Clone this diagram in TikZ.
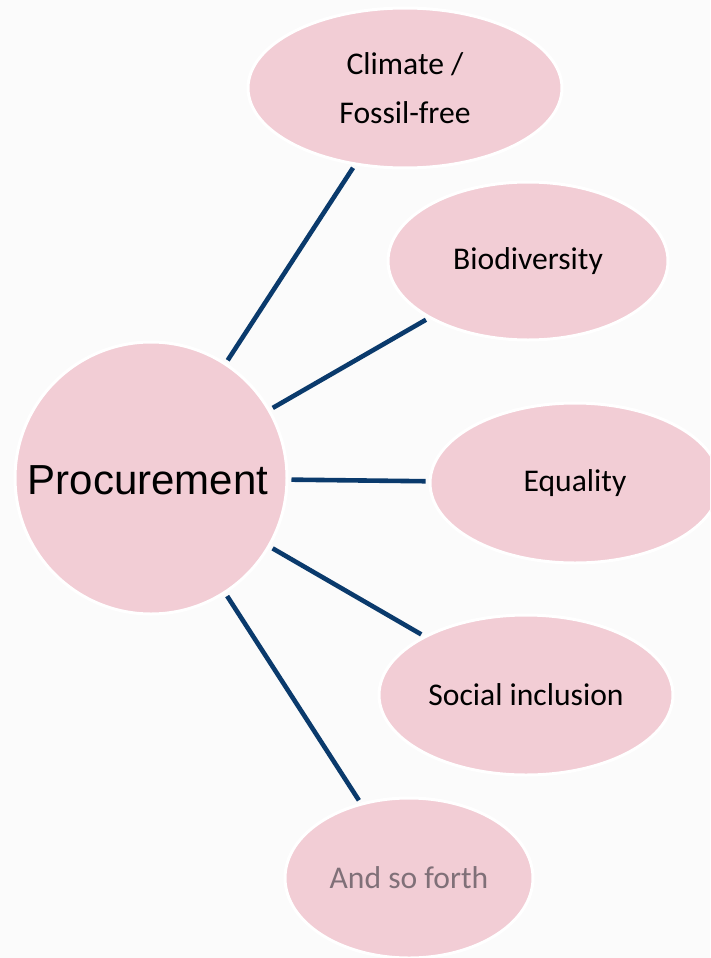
\documentclass[tikz,border=0pt]{standalone}
\usepackage{fontspec}
\setmainfont{Carlito}
\newfontfamily\arialfont{Liberation Sans}
\usetikzlibrary{shapes.geometric}
\definecolor{bubble}{RGB}{242,205,213}
\definecolor{linkblue}{RGB}{10,58,108}
\definecolor{bgcol}{RGB}{251,251,251}
\definecolor{greytext}{RGB}{128,112,120}
\tikzset{
  bub/.style={ellipse, fill=bubble, draw=white, line width=3pt, inner sep=0pt,
    font=\fontsize{31.6}{49}\selectfont, text=black, align=center},
  link/.style={draw=linkblue, line width=4.6pt, shorten <=3pt, shorten >=3pt}
}
\begin{document}
\begin{tikzpicture}[x=1pt,y=-1pt]
\useasboundingbox (0,0) rectangle (710,958);
\fill[bgcol] (0,0) rectangle (710,958);
\clip (0,0) rectangle (710,958);
\node[circle, fill=bubble, draw=white, line width=3pt, inner sep=0pt,
  minimum size=272pt] (proc) at (151,478) {};
\node[font=\arialfont\fontsize{42}{50}\selectfont, inner sep=0pt] (proctext) at (148,480) {Procurement};
\node[bub, minimum width=314pt, minimum height=160pt] (clim) at (405,88) {Climate /\\Fossil-free};
\node[bub, minimum width=280pt, minimum height=158pt] (bio) at (528,261) {Biodiversity};
\node[bub, minimum width=290pt, minimum height=160pt] (equ) at (575,483) {Equality};
\node[bub, minimum width=294pt, minimum height=160pt] (soc) at (526,695) {Social inclusion};
\node[bub, minimum width=248pt, minimum height=160pt, text=greytext] (forth) at (409,878) {And so forth};
\draw[link] (proc) -- (clim);
\draw[link] (proc) -- (bio);
\draw[link] (proc) -- (equ);
\draw[link] (proc) -- (soc);
\draw[link] (proc) -- (forth);
\end{tikzpicture}
\end{document}
